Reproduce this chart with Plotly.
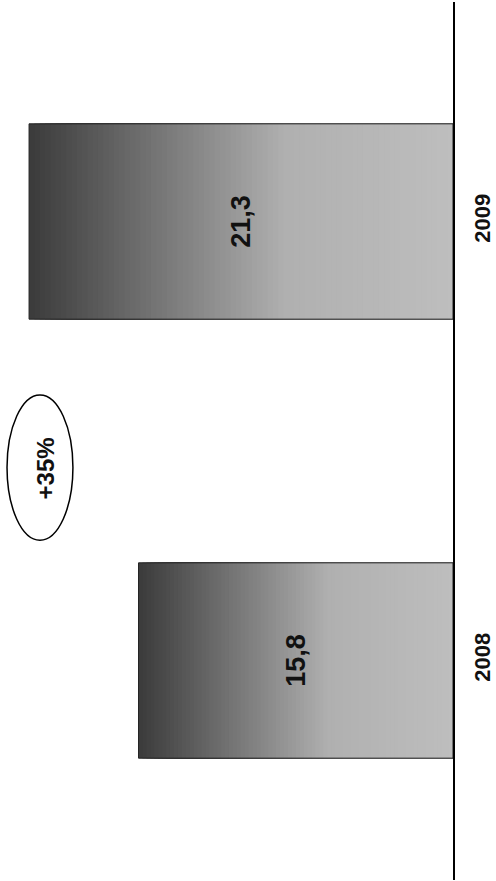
import plotly.graph_objects as go

# Data
years = ["2008", "2009"]
values = [15.8, 21.3]

growth = (values[1] / values[0] - 1) * 100  # percent change 2008 -> 2009

FONT = "Liberation Sans, Arial, sans-serif"
N_STEPS = 80
BAR_WIDTH = 0.445


def shade(f):
    """Grey level along a bar: light near the baseline, dark at the far end."""
    light, mid, dark = 190, 176, 60
    if f <= 0.4:
        g = light + (mid - light) * (f / 0.4)
    else:
        g = mid + (dark - mid) * ((f - 0.4) / 0.6)
    g = int(round(g))
    return f"rgb({g},{g},{g})"


# Gradient fill: nested bars from the baseline, longest (darkest) first,
# shorter and lighter ones drawn on top.
grad_y, grad_x, grad_c = [], [], []
for k in range(N_STEPS, 0, -1):
    f = k / N_STEPS
    for yr, v in zip(years, values):
        grad_y.append(yr)
        grad_x.append(v * f)
        grad_c.append(shade(f))

fig = go.Figure()

fig.add_trace(go.Bar(
    y=grad_y, x=grad_x, orientation="h",
    width=BAR_WIDTH,
    marker=dict(color=grad_c, line=dict(width=0)),
    hoverinfo="skip", showlegend=False,
))

# Outline and value labels
fig.add_trace(go.Bar(
    y=years, x=values, orientation="h",
    width=BAR_WIDTH,
    marker=dict(color="rgba(0,0,0,0)", line=dict(color="#222222", width=1)),
    texttemplate="%{x:.1f}",
    textposition="inside",
    insidetextanchor="middle",
    textangle=-90,
    insidetextfont=dict(family=FONT, size=27, color="#111111", weight="bold"),
    showlegend=False,
))

fig.update_layout(
    width=496, height=881,
    margin=dict(l=0, r=43, t=2, b=1),
    paper_bgcolor="white", plot_bgcolor="white",
    barmode="overlay",
    separators=", ",
    xaxis=dict(range=[22.76, 0], visible=False, showgrid=False, zeroline=False,
               automargin=False),
    yaxis=dict(
        type="category", categoryorder="array", categoryarray=years,
        range=[-0.5, 1.5], side="right", automargin=False,
        showline=True, linecolor="black", linewidth=2,
        showgrid=False, zeroline=False, ticks="",
        tickangle=-90, ticklabelstandoff=9,
        tickfont=dict(family=FONT, size=22, color="#111111", weight="bold"),
    ),
    shapes=[dict(
        type="circle", xref="paper", yref="paper",
        x0=0.0155, x1=0.161, y0=0.387, y1=0.5524,
        line=dict(color="black", width=1.5), fillcolor="white",
    )],
    annotations=[dict(
        text=f"+{growth:.0f}%", xref="paper", yref="paper",
        x=0.0993, y=0.4687, showarrow=False, textangle=-90,
        font=dict(family=FONT, size=24, color="#111111", weight="bold"),
        xanchor="center", yanchor="middle",
    )],
)

fig.write_html("out.html")
